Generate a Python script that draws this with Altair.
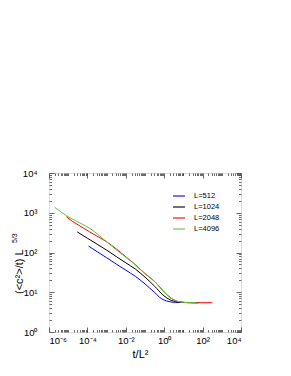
import altair as alt
import pandas as pd

# ---- data (t/L^2 , (<c^2>/t) L^(5/3)) ----
L_labels = ["L=512", "L=1024", "L=2048", "L=4096"]
L_colors = ["#0000ff", "#000000", "#ff0000", "#5cc83a"]

x_512 = [1.15e-4, 3.2e-4, 1e-3, 3.2e-3, 1e-2, 3.2e-2, 0.1, 0.32, 0.72, 1.58, 4, 16, 63]
y_512 = [145, 105, 74, 51, 36, 25, 16.2, 9.8, 6.9, 5.9, 5.55, 5.5, 5.45]

x_1024 = [2.95e-5, 1e-4, 3.2e-4, 1e-3, 3.2e-3, 1e-2, 3.2e-2, 0.1, 0.32, 0.87, 2, 5, 16, 50]
y_1024 = [330, 229, 162, 115, 79, 55, 38, 24, 14.1, 8.5, 6.45, 5.75, 5.5, 5.45]

x_2048 = [7.9e-6, 1.6e-5, 4e-5, 1.3e-4, 3.2e-4, 1e-3, 3.2e-3, 1e-2, 3.2e-2, 0.1, 0.32, 1, 2.5, 6.3, 16, 50, 320]
y_2048 = [795, 615, 470, 330, 257, 186, 123, 78, 49, 29.5, 18.6, 10.2, 6.9, 5.75, 5.5, 5.45, 5.45]

x_4096 = [1.95e-6, 4e-6, 7.9e-6, 2e-5, 5e-5, 1.3e-4, 3.2e-4, 1e-3, 3.2e-3, 1e-2, 3.2e-2, 0.1, 0.32, 1, 2.5, 6.3, 16, 50]
y_4096 = [1380, 1070, 850, 660, 525, 410, 295, 186, 117, 76, 48, 29, 18.6, 10, 6.8, 5.75, 5.5, 5.45]

x_major = [1e-6, 1e-4, 1e-2, 1, 1e2, 1e4]
y_major = [1, 10, 100, 1000, 10000]
x_decades = [1e-6, 1e-5, 1e-4, 1e-3, 1e-2, 1e-1, 1, 10, 100, 1000]
y_decades = [1, 10, 100, 1000]
mantissas = [2, 3, 4, 5, 6, 7, 8, 9]

x_minor = [m * d for d in x_decades for m in mantissas] + [1e-5, 1e-3, 1e-1, 10, 1000]
y_minor = [m * d for d in y_decades for m in mantissas]

series = [(L_labels[0], x_512, y_512), (L_labels[1], x_1024, y_1024),
          (L_labels[2], x_2048, y_2048), (L_labels[3], x_4096, y_4096)]
rows = []
for lab, xs, ys in series:
    for i, (a, b) in enumerate(zip(xs, ys)):
        rows.append({"L": lab, "t": a, "v": b, "i": i})
df = pd.DataFrame(rows)

sup = {"-6": "⁻⁶", "-4": "⁻⁴", "-2": "⁻²", "0": "⁰", "1": "¹", "2": "²", "3": "³", "4": "⁴"}
def label_expr(vals):
    parts = []
    for e in vals:
        parts.append(f"round(log(datum.value)/LN10) == {e} ? '10{sup[str(e)]}'")
    return " : ".join(parts) + " : ''"

x_scale = alt.Scale(type="log", domain=[1e-6, 1e4], nice=False)
y_scale = alt.Scale(type="log", domain=[1, 1e4], nice=False)

FONT = "Liberation Sans"
W, H = 192, 159

main = alt.Chart(df).mark_line(strokeWidth=1.0, interpolate="monotone").encode(
    x=alt.X("t:Q", scale=x_scale,
            axis=alt.Axis(orient="bottom", values=x_major, labelExpr=label_expr([-6, -4, -2, 0, 2, 4]),
                          ticks=False, domain=False, grid=False, labelPadding=3,
                          labelFont=FONT, labelFontSize=9.5, labelColor="black",
                          title="t/L²", titleFont=FONT, titleFontSize=11, titleFontWeight="normal",
                          titleX=91, titleY=25, titleBaseline="alphabetic", titleColor="black")),
    y=alt.Y("v:Q", scale=y_scale,
            axis=alt.Axis(orient="left", values=y_major, labelExpr=label_expr([0, 1, 2, 3, 4]),
                          ticks=False, domain=False, grid=False, labelPadding=12,
                          labelFont=FONT, labelFontSize=9.5, labelColor="black", title=None)),
    color=alt.Color("L:N", scale=alt.Scale(domain=L_labels, range=L_colors),
                    legend=alt.Legend(orient="none", legendX=123, legendY=16, title=None,
                                      symbolType="stroke", symbolSize=144, symbolStrokeWidth=1.1,
                                      labelFont=FONT, labelFontSize=7.5, labelColor="black",
                                      labelOffset=8, rowPadding=-4, padding=0)),
    order="i:Q",
)

def tick_layer(xo, yo, xv, yv, size):
    return alt.Chart(df).mark_point(opacity=0).encode(
        x=alt.X("t:Q", scale=x_scale,
                axis=alt.Axis(orient=xo, values=xv, offset=-size, tickSize=size, labels=False,
                              domain=False, grid=False, title=None, tickColor="#444", tickWidth=0.8)),
        y=alt.Y("v:Q", scale=y_scale,
                axis=alt.Axis(orient=yo, values=yv, offset=-size, tickSize=size, labels=False,
                              domain=False, grid=False, title=None, tickColor="#444", tickWidth=0.8)),
    )

t1 = tick_layer("bottom", "left", x_major, y_major, 5)
t2 = tick_layer("bottom", "left", x_minor, y_minor, 2.5)
t3 = tick_layer("top", "right", x_major, y_major, 5)
t4 = tick_layer("top", "right", x_minor, y_minor, 2.5)

title_df = pd.DataFrame({"txt": ["(<c²>/t) L"]})
sup_df = pd.DataFrame({"txt": ["5/3"]})
ytitle = alt.Chart(title_df).mark_text(angle=270, align="left", baseline="alphabetic",
                                       font=FONT, fontSize=11, color="black").encode(
    x=alt.value(-26), y=alt.value(121), text="txt:N")
ysup = alt.Chart(sup_df).mark_text(angle=270, align="left", baseline="alphabetic",
                                   font=FONT, fontSize=7, color="black").encode(
    x=alt.value(-32), y=alt.value(70), text="txt:N")

chart = alt.layer(main, t1, t2, t3, t4, ytitle, ysup).resolve_axis(
    x="independent", y="independent"
).properties(
    width=W, height=H,
    autosize=alt.AutoSizeParams(type="none"),
    padding={"left": 41, "top": 165, "right": 42, "bottom": 36},
).configure_view(stroke="#333", strokeWidth=1).configure(background="white")

chart.save("out.html", embed_options={"renderer": "svg", "actions": False})
